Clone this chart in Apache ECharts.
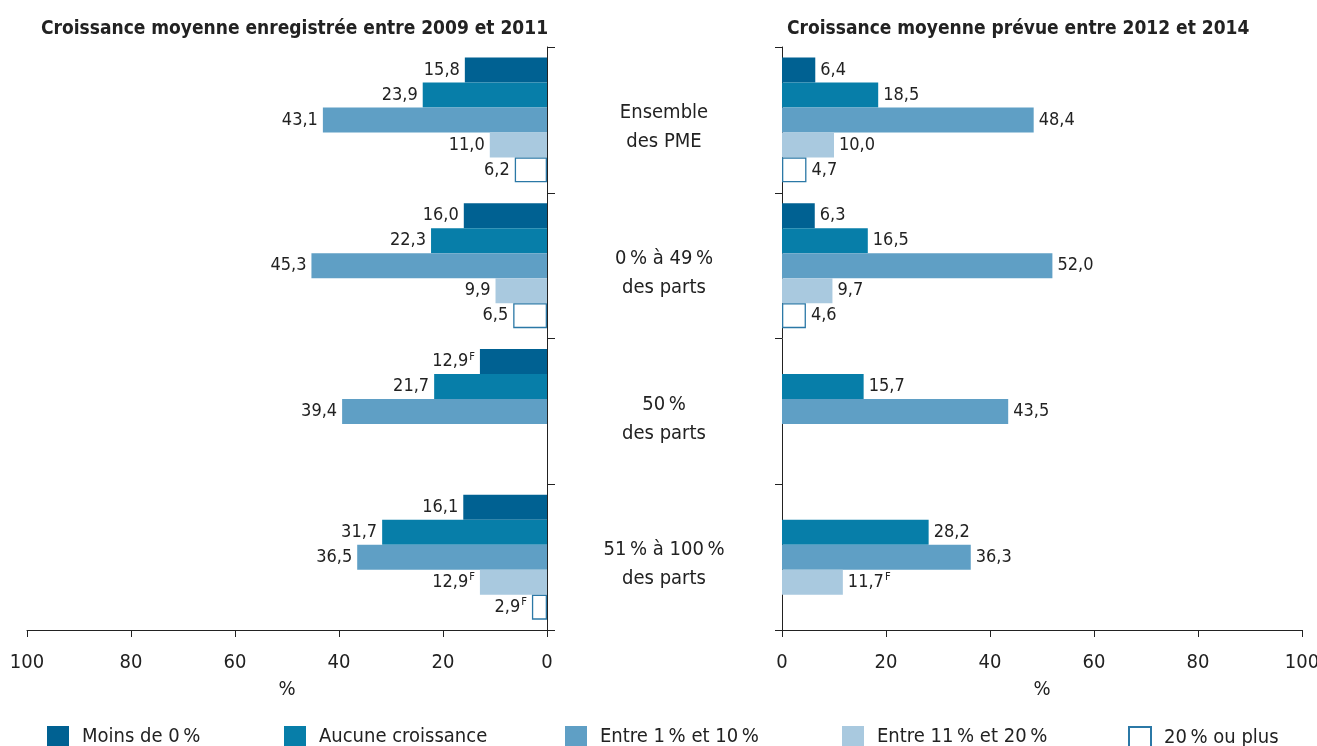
<!DOCTYPE html>
<html>
<head>
<meta charset="utf-8">
<script src="https://cdn.jsdelivr.net/npm/echarts@6/dist/echarts.min.js"></script>
<style>
html, body { margin: 0; padding: 0; background: #fff; }
#chart { width: 1317px; height: 746px; }
</style>
</head>
<body>
<div id="chart"></div>
<script>
(function(){

var FONT = '"DejaVu Sans Condensed", "Liberation Sans", sans-serif';

var categories = ['Ensemble\ndes PME', '0\u202F% à 49\u202F%\ndes parts', '50\u202F%\ndes parts', '51\u202F% à 100\u202F%\ndes parts'];
var seriesNames = ['Moins de 0\u202F%', 'Aucune croissance', 'Entre 1\u202F% et 10\u202F%', 'Entre 11\u202F% et 20\u202F%', '20\u202F% ou plus'];
var colors = ['#006192', '#077ea9', '#5f9fc5', '#a9c9df', '#ffffff'];

// 2009-2011, one array per series, one value per category
var pastMoins   = [15.8, 16.0, 12.9, 16.1];
var pastAucune  = [23.9, 22.3, 21.7, 31.7];
var pastEntre1  = [43.1, 45.3, 39.4, 36.5];
var pastEntre11 = [11.0, 9.9, null, 12.9];
var pastPlus20  = [6.2, 6.5, null, 2.9];
// values flagged with a superscript F : [series index, category index]
var pastFlags = [[0, 2], [3, 3], [4, 3]];

// 2012-2014
var nextMoins   = [6.4, 6.3, null, null];
var nextAucune  = [18.5, 16.5, 15.7, 28.2];
var nextEntre1  = [48.4, 52.0, 43.5, 36.3];
var nextEntre11 = [10.0, 9.7, null, 11.7];
var nextPlus20  = [4.7, 4.6, null, null];
var nextFlags = [[3, 3]];

var xTicks = [0, 20, 40, 60, 80, 100];

var pastData = [pastMoins, pastAucune, pastEntre1, pastEntre11, pastPlus20];
var nextData = [nextMoins, nextAucune, nextEntre1, nextEntre11, nextPlus20];

function isFlagged(flags, s, c) {
    for (var i = 0; i < flags.length; i++) {
        if (flags[i][0] === s && flags[i][1] === c) return true;
    }
    return false;
}

function makeSeries(data, flags, side) {
    return data.map(function(values, s) {
        return {
            name: seriesNames[s],
            type: 'bar',
            xAxisIndex: side,
            yAxisIndex: side,
            barWidth: 25,
            barGap: '0%',
            animation: false,
            itemStyle: s === 4
                ? { color: '#ffffff', borderColor: '#2b78a6', borderWidth: 1.3 }
                : { color: colors[s] },
            label: {
                show: true,
                position: side === 0 ? 'left' : 'right',
                distance: 5,
                fontFamily: FONT,
                fontSize: 18,
                color: '#222',
                formatter: function(p) {
                    if (p.value == null) return '';
                    var txt = '{v|' + p.value.toFixed(1).replace('.', ',') + '}';
                    if (isFlagged(flags, s, p.dataIndex)) txt += '{sup|F}';
                    return txt;
                },
                rich: {
                    v: { fontFamily: FONT, fontSize: 18, color: '#222' },
                    sup: { fontFamily: FONT, fontSize: 11, color: '#222', padding: [0, 0, 9, 1] }
                }
            },
            data: values
        };
    });
}

var axisLineStyle = { color: '#222', width: 1 };

var xAxisCommon = {
    type: 'value',
    min: 0,
    max: 100,
    interval: 20,
    name: '%',
    nameLocation: 'middle',
    nameGap: 50,
    nameTextStyle: { fontFamily: FONT, fontSize: 20, color: '#222' },
    splitLine: { show: false },
    axisLine: { show: true, lineStyle: axisLineStyle },
    axisTick: { show: true, length: 7, lineStyle: axisLineStyle },
    axisLabel: {
        fontFamily: FONT, fontSize: 20, color: '#222', margin: 23,
        formatter: function(v) { return xTicks.indexOf(v) >= 0 ? String(v) : ''; }
    }
};

var chart = echarts.init(document.getElementById('chart'));

var legendLefts = [47, 284, 565, 842, 1128];

var option = {
    backgroundColor: '#fff',
    title: [
        { text: 'Croissance moyenne enregistrée entre 2009 et 2011', left: 36, top: 15,
          textStyle: { fontFamily: FONT, fontSize: 19, fontWeight: 'bold', color: '#222' } },
        { text: 'Croissance moyenne prévue entre 2012 et 2014', left: 782, top: 15,
          textStyle: { fontFamily: FONT, fontSize: 19, fontWeight: 'bold', color: '#222' } }
    ],
    legend: seriesNames.map(function(n, i) {
        return {
            data: [{ name: n, icon: 'rect' }],
            left: legendLefts[i],
            top: 726,
            padding: 0,
            itemWidth: 22,
            itemHeight: 22,
            selectedMode: false,
            textStyle: { fontFamily: FONT, fontSize: 20, color: '#222', padding: [0, 0, 0, 8] }
        };
    }),
    grid: [
        { left: 27, width: 520, top: 47, height: 583, outerBoundsMode: 'none' },
        { left: 782, width: 520, top: 47, height: 583, outerBoundsMode: 'none' }
    ],
    xAxis: [
        Object.assign({}, xAxisCommon, { gridIndex: 0, inverse: true }),
        Object.assign({}, xAxisCommon, { gridIndex: 1 })
    ],
    yAxis: [
        {
            type: 'category', gridIndex: 0, position: 'right', inverse: true,
            data: categories,
            axisLine: { show: true, lineStyle: axisLineStyle },
            axisTick: { show: true, length: 8, lineStyle: axisLineStyle },
            axisLabel: { show: false }
        },
        {
            type: 'category', gridIndex: 1, position: 'left', inverse: true,
            data: categories,
            axisLine: { show: true, lineStyle: axisLineStyle },
            axisTick: { show: true, length: 7, lineStyle: axisLineStyle },
            axisLabel: {
                show: true, align: 'center', margin: 118,
                formatter: function(v) {
                    return '{gap| }\n' + v.split('\n').map(function(l) { return '{t|' + l + '}'; }).join('\n');
                },
                rich: {
                    gap: { fontSize: 1, lineHeight: 15 },
                    t: { fontFamily: FONT, fontSize: 20, lineHeight: 29, color: '#222' }
                }
            }
        }
    ],
    series: makeSeries(pastData, pastFlags, 0).concat(makeSeries(nextData, nextFlags, 1))
};

chart.setOption(option);

})();
</script>
</body>
</html>
